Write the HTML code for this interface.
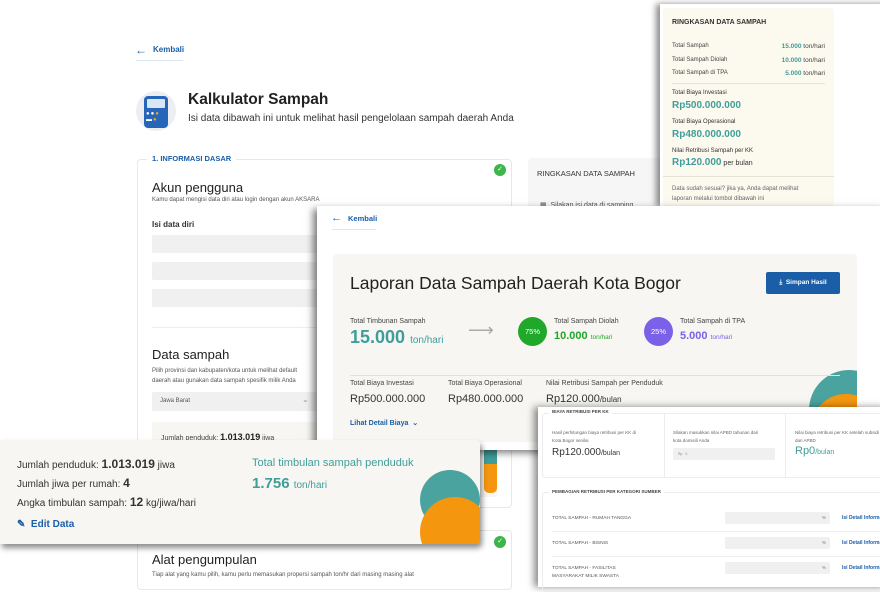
<!DOCTYPE html>
<html><head><meta charset="utf-8"><style>
*{box-sizing:border-box;margin:0;padding:0}
body{width:880px;height:579px;overflow:hidden;background:#fff;font-family:"Liberation Sans",sans-serif;color:#222;position:relative}
.a{position:absolute;white-space:nowrap}
.blue{color:#1a5ea8}
.teal{color:#3f9e9b}
.inp{position:absolute;background:#f0f0f0;border-radius:2px}
</style></head><body>

<!-- Base page -->
<div class="a blue" style="left:135px;top:43px;font-size:12px">&#8592;</div>
<div class="a blue" style="left:153px;top:45px;font-size:8px;font-weight:bold">Kembali</div>
<div class="a" style="left:136px;top:60px;width:47px;height:1px;background:#dde6f0"></div>
<div class="a" style="left:136px;top:91px;width:40px;height:40px;border-radius:50%;background:#eceef2"></div>
<div class="a" style="left:144px;top:96px;width:24px;height:32px;border-radius:4px;background:#2666b8"></div>
<div class="a" style="left:147px;top:99px;width:18px;height:9px;border-radius:1px;background:#dbe6f5"></div>
<div class="a" style="left:146px;top:111px;width:20px;height:14px;font-size:6px;color:#fff;line-height:6px;letter-spacing:1px">●●<span style="color:#f5a31a">●</span><br>▬<span style="color:#f5a31a">●</span></div>
<div class="a" style="left:188px;top:91px;font-size:15.5px;font-weight:bold">Kalkulator Sampah</div>
<div class="a" style="left:188px;top:113px;font-size:10px;color:#333">Isi data dibawah ini untuk melihat hasil pengelolaan sampah daerah Anda</div>

<div class="a" style="left:137px;top:159px;width:375px;height:349px;border:1px solid #e8e8e8;border-radius:4px"></div>
<div class="a blue" style="left:147px;top:154px;padding:0 5px;background:#fff;font-size:7.5px;font-weight:bold">1. INFORMASI DASAR</div>
<div class="a" style="left:494px;top:164px;width:12px;height:12px;border-radius:50%;background:#3cb54a;color:#fff;font-size:7px;text-align:center;line-height:12px">✓</div>
<div class="a" style="left:152px;top:180px;font-size:13px">Akun pengguna</div>
<div class="a" style="left:152px;top:197px;font-size:6px;color:#555">Kamu dapat mengisi data diri atau login dengan akun AKSARA</div>
<div class="a" style="left:152px;top:220px;font-size:8px;font-weight:bold;color:#333">Isi data diri</div>
<div class="inp" style="left:152px;top:235px;width:170px;height:18px"></div>
<div class="inp" style="left:152px;top:262px;width:170px;height:18px"></div>
<div class="inp" style="left:152px;top:289px;width:170px;height:18px"></div>
<div class="a" style="left:152px;top:327px;width:350px;height:1px;background:#eee"></div>
<div class="a" style="left:152px;top:347px;font-size:13px">Data sampah</div>
<div class="a" style="left:152px;top:366px;font-size:6px;color:#555;line-height:10px">Pilih provinsi dan kabupaten/kota untuk melihat default<br>daerah atau gunakan data sampah spesifik milik Anda</div>
<div class="inp" style="left:152px;top:392px;width:170px;height:19px"></div>
<div class="a" style="left:160px;top:398px;font-size:6px;color:#555">Jawa Barat</div>
<div class="a" style="left:302px;top:395px;font-size:8px;color:#999">⌄</div>
<div class="inp" style="left:152px;top:422px;width:345px;height:75px;background:#f7f6f2"></div>
<div class="a" style="left:161px;top:432px;font-size:7px;color:#444">Jumlah penduduk: <b style="font-size:9px;color:#222">1.013.019</b> jiwa</div>
<div class="a" style="left:484px;top:440px;width:13px;height:53px;border-radius:0 0 5px 5px;background:linear-gradient(#3f9e9b 0 45%,#f5960f 45%)"></div>

<div class="a" style="left:137px;top:530px;width:375px;height:60px;border:1px solid #e8e8e8;border-radius:4px"></div>
<div class="a" style="left:494px;top:536px;width:12px;height:12px;border-radius:50%;background:#3cb54a;color:#fff;font-size:7px;text-align:center;line-height:12px">✓</div>
<div class="a" style="left:152px;top:552px;font-size:13px">Alat pengumpulan</div>
<div class="a" style="left:152px;top:572px;font-size:6px;color:#555">Tiap alat yang kamu pilih, kamu perlu memasukan propersi sampah ton/hr dari masing masing alat</div>

<div class="a" style="left:528px;top:158px;width:140px;height:60px;background:#f6f6f6;border-radius:4px"></div>
<div class="a" style="left:537px;top:169px;font-size:7.5px;color:#333">RINGKASAN DATA SAMPAH</div>
<div class="a" style="left:540px;top:201px;font-size:7px;color:#555">▦ &nbsp;Silakan isi data di samping</div>

<!-- Top right summary -->
<div class="a" style="left:660px;top:4px;width:230px;height:203px;background:#fff;box-shadow:-4px 0 6px rgba(0,0,0,.45)"></div>
<div class="a" style="left:663px;top:8px;width:171px;height:198px;background:#fcf9ee;border-radius:3px"></div>
<div class="a" style="left:672px;top:19px;font-size:7px;font-weight:bold;color:#333">RINGKASAN DATA SAMPAH</div>
<div class="a" style="left:672px;top:40px;font-size:6px;color:#444;line-height:13.5px">Total Sampah<br>Total Sampah Diolah<br>Total Sampah di TPA</div>
<div class="a" style="left:740px;top:40px;width:85px;text-align:right;font-size:6.5px;color:#444;line-height:13.5px"><b class="teal">15.000</b> ton/hari<br><b class="teal">10.000</b> ton/hari<br><b class="teal">5.000</b> ton/hari</div>
<div class="a" style="left:672px;top:83px;width:153px;height:1px;background:#e6e2d6"></div>
<div class="a" style="left:672px;top:90px;font-size:6px;color:#333">Total Biaya Investasi</div>
<div class="a teal" style="left:672px;top:100px;font-size:10px;font-weight:bold">Rp500.000.000</div>
<div class="a" style="left:672px;top:119px;font-size:6px;color:#333">Total Biaya Operasional</div>
<div class="a teal" style="left:672px;top:129px;font-size:10px;font-weight:bold">Rp480.000.000</div>
<div class="a" style="left:672px;top:148px;font-size:6px;color:#333">Nilai Retribusi Sampah per KK</div>
<div class="a" style="left:672px;top:157px;font-size:7px;color:#333"><b class="teal" style="font-size:10px">Rp120.000</b> per bulan</div>
<div class="a" style="left:663px;top:176px;width:171px;height:1px;background:#e6e2d6"></div>
<div class="a" style="left:672px;top:184px;font-size:6px;color:#666;line-height:10px">Data sudah sesuai? jika ya, Anda dapat melihat<br>laporan melalui tombol dibawah ini</div>

<!-- Report layer -->
<div class="a" style="left:317px;top:206px;width:570px;height:244px;background:#fff;box-shadow:-4px 3px 7px rgba(0,0,0,.5)"></div>
<div class="a blue" style="left:331px;top:212px;font-size:11px">&#8592;</div>
<div class="a blue" style="left:348px;top:214px;font-size:7.5px;font-weight:bold">Kembali</div>
<div class="a" style="left:332px;top:229px;width:44px;height:1px;background:#dde6f0"></div>
<div class="a" style="left:333px;top:254px;width:524px;height:188px;background:#f7f6f2;border-radius:4px;overflow:hidden">
  <div class="a" style="left:476px;top:116px;width:80px;height:80px;border-radius:50%;background:#4aa39f"></div>
  <div class="a" style="left:478px;top:140px;width:70px;height:70px;border-radius:50%;background:#f5960f"></div>
</div>
<div class="a" style="left:350px;top:273px;font-size:17.5px;color:#222">Laporan Data Sampah Daerah Kota Bogor</div>
<div class="a" style="left:766px;top:272px;width:74px;height:22px;background:#1a5ea8;border-radius:2px;color:#fff;font-size:6.5px;font-weight:bold;line-height:22px;text-align:center">⤓ &nbsp;Simpan Hasil</div>
<div class="a" style="left:350px;top:318px;font-size:7px;color:#444">Total Timbunan Sampah</div>
<div class="a teal" style="left:350px;top:327px;font-size:18px;font-weight:bold">15.000 <span style="font-size:10px;font-weight:normal">ton/hari</span></div>
<div class="a" style="left:468px;top:322px;font-size:18px;color:#aaa;line-height:16px">⟶</div>
<div class="a" style="left:518px;top:317px;width:29px;height:29px;border-radius:50%;background:#1fa82a;color:#fff;font-size:7.5px;text-align:center;line-height:29px">75%</div>
<div class="a" style="left:554px;top:318px;font-size:7px;color:#444">Total Sampah Diolah</div>
<div class="a" style="left:554px;top:330px;font-size:11px;font-weight:bold;color:#1fa82a">10.000 <span style="font-size:6.5px;font-weight:normal">ton/hari</span></div>
<div class="a" style="left:644px;top:317px;width:29px;height:29px;border-radius:50%;background:#7b61e8;color:#fff;font-size:7.5px;text-align:center;line-height:29px">25%</div>
<div class="a" style="left:680px;top:318px;font-size:7px;color:#444">Total Sampah di TPA</div>
<div class="a" style="left:680px;top:330px;font-size:11px;font-weight:bold;color:#7b61e8">5.000 <span style="font-size:6.5px;font-weight:normal">ton/hari</span></div>
<div class="a" style="left:350px;top:375px;width:490px;height:1px;background:#e3e1da"></div>
<div class="a" style="left:350px;top:380px;font-size:7px;color:#444">Total Biaya Investasi</div>
<div class="a" style="left:448px;top:380px;font-size:7px;color:#444">Total Biaya Operasional</div>
<div class="a" style="left:546px;top:380px;font-size:7px;color:#444">Nilai Retribusi Sampah per Penduduk</div>
<div class="a" style="left:350px;top:393px;font-size:11px;color:#333">Rp500.000.000</div>
<div class="a" style="left:448px;top:393px;font-size:11px;color:#333">Rp480.000.000</div>
<div class="a" style="left:546px;top:393px;font-size:11px;color:#333">Rp120.000<span style="font-size:8px">/bulan</span></div>
<div class="a blue" style="left:350px;top:419px;font-size:7px;font-weight:bold">Lihat Detail Biaya &nbsp;⌄</div>

<!-- Detail layer -->
<div class="a" style="left:538px;top:407px;width:350px;height:180px;background:#fff;box-shadow:-4px 0 7px rgba(0,0,0,.45)"></div>
<div class="a" style="left:542px;top:413px;width:345px;height:65px;border:1px solid #ececec;border-radius:3px"></div>
<div class="a" style="left:664px;top:413px;width:1px;height:65px;background:#ececec"></div>
<div class="a" style="left:785px;top:413px;width:1px;height:65px;background:#ececec"></div>
<div class="a" style="left:549px;top:409px;padding:0 3px;background:#fff;font-size:4.5px;font-weight:bold;color:#444">BIAYA RETRIBUSI PER KK</div>
<div class="a" style="left:552px;top:429px;font-size:4.5px;color:#666;line-height:8px">Hasil perhitungan biaya retribusi per KK di<br>Kota Bogor senilai</div>
<div class="a" style="left:552px;top:447px;font-size:10px;color:#333">Rp120.000<span style="font-size:7px">/bulan</span></div>
<div class="a" style="left:673px;top:429px;font-size:4.5px;color:#666;line-height:8px">Silakan masukkan nilai APBD tahunan dari<br>kota domisili Anda</div>
<div class="inp" style="left:673px;top:448px;width:102px;height:12px"></div>
<div class="a" style="left:678px;top:452px;font-size:3.5px;color:#888">Rp &nbsp; 0</div>
<div class="a" style="left:795px;top:429px;font-size:4.5px;color:#666;line-height:8px">Nilai biaya retribusi per KK setelah subsidi<br>dari APBD</div>
<div class="a teal" style="left:795px;top:445px;font-size:11px">Rp0<span style="font-size:7px">/bulan</span></div>
<div class="a" style="left:542px;top:492px;width:345px;height:100px;border:1px solid #ececec;border-radius:3px"></div>
<div class="a" style="left:549px;top:489px;padding:0 3px;background:#fff;font-size:4.5px;font-weight:bold;color:#444">PEMBAGIAN RETRIBUSI PER KATEGORI SUMBER</div>
<div class="a" style="left:552px;top:516px;font-size:4.8px;color:#555">TOTAL SAMPAH - RUMAH TANGGA</div>
<div class="a" style="left:552px;top:541px;font-size:4.8px;color:#555">TOTAL SAMPAH - BISNIS</div>
<div class="a" style="left:552px;top:565px;font-size:4.8px;color:#555;line-height:8px">TOTAL SAMPAH - FASILITAS<br>MASYARAKAT MILIK SWASTA</div>
<div class="a" style="left:552px;top:531px;width:330px;height:1px;background:#eee"></div>
<div class="a" style="left:552px;top:556px;width:330px;height:1px;background:#eee"></div>
<div class="inp" style="left:725px;top:512px;width:105px;height:12px"></div>
<div class="inp" style="left:725px;top:537px;width:105px;height:12px"></div>
<div class="inp" style="left:725px;top:562px;width:105px;height:12px"></div>
<div class="a" style="left:822px;top:515px;font-size:4.5px;color:#777">%</div>
<div class="a" style="left:822px;top:540px;font-size:4.5px;color:#777">%</div>
<div class="a" style="left:822px;top:565px;font-size:4.5px;color:#777">%</div>
<div class="a blue" style="left:842px;top:515px;font-size:5px;font-weight:bold">Isi Detail Informasi</div>
<div class="a blue" style="left:842px;top:540px;font-size:5px;font-weight:bold">Isi Detail Informasi</div>
<div class="a blue" style="left:842px;top:565px;font-size:5px;font-weight:bold">Isi Detail Informasi</div>

<!-- Population card -->
<div class="a" style="left:0;top:440px;width:480px;height:104px;background:#f7f6f2;border-radius:0 4px 4px 0;box-shadow:2px 4px 6px rgba(0,0,0,.45);overflow:hidden">
  <div class="a" style="left:420px;top:30px;width:60px;height:60px;border-radius:50%;background:#4aa39f"></div>
  <div class="a" style="left:420px;top:57px;width:70px;height:70px;border-radius:50%;background:#f5960f"></div>
</div>
<div class="a" style="left:17px;top:457px;font-size:10px;color:#333">Jumlah penduduk: <b style="font-size:12px">1.013.019</b> jiwa</div>
<div class="a" style="left:17px;top:476px;font-size:10px;color:#333">Jumlah jiwa per rumah: <b style="font-size:12px">4</b></div>
<div class="a" style="left:17px;top:495px;font-size:10px;color:#333">Angka timbulan sampah: <b style="font-size:12px">12</b> kg/jiwa/hari</div>
<div class="a blue" style="left:17px;top:519px;font-size:10px;font-weight:bold">✎ &nbsp;Edit Data</div>
<div class="a teal" style="left:252px;top:457px;font-size:11px">Total timbulan sampah penduduk</div>
<div class="a teal" style="left:252px;top:475px;font-size:15px;font-weight:bold">1.756 <span style="font-size:10px;font-weight:normal">ton/hari</span></div>

</body></html>
